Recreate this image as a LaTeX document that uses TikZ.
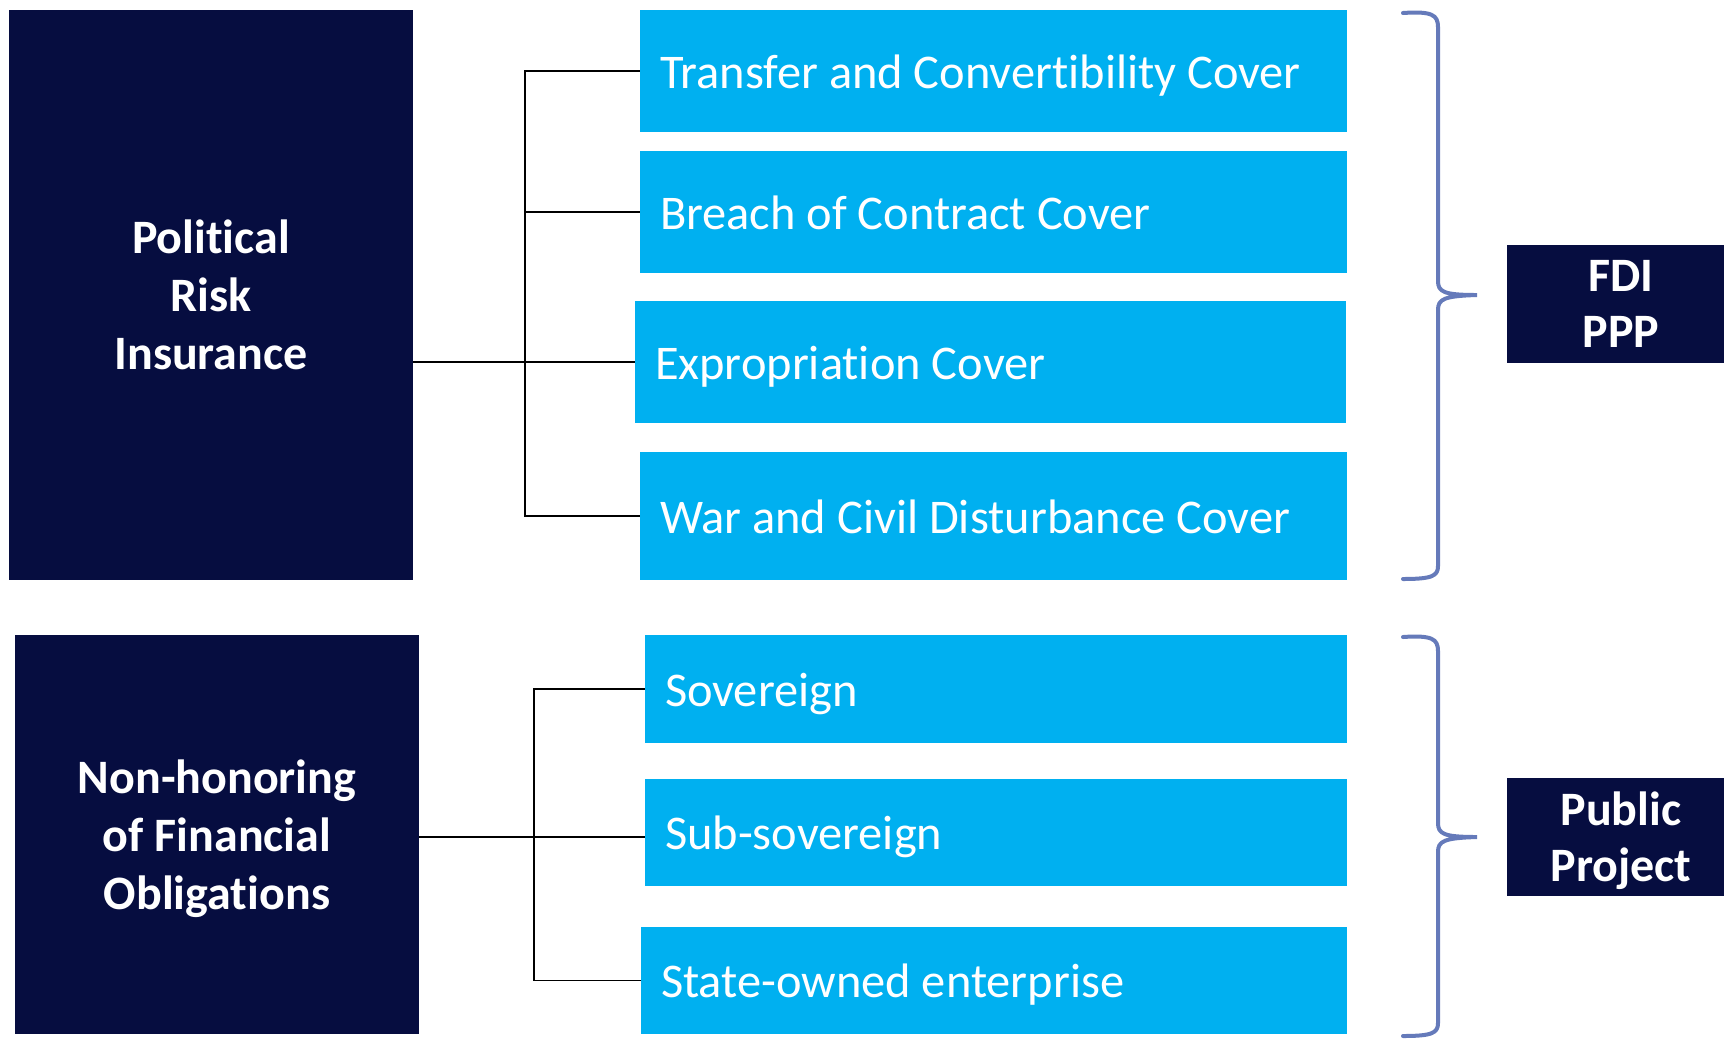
\documentclass[tikz,border=0pt]{standalone}
\usepackage{fontspec}
\setmainfont{Carlito}[Ligatures=NoCommon]
\definecolor{navy}{RGB}{6,13,64}
\definecolor{cover}{RGB}{0,176,240}
\definecolor{bracecol}{RGB}{101,122,186}
\newcommand{\nodesc}[1]{\raisebox{0pt}[\height][0pt]{#1}}

\begin{document}
\begin{tikzpicture}[x=0.5pt,y=-0.5pt,
    risk node/.style={fill=navy,text=white,font=\bfseries\fontsize{24}{29}\selectfont,align=center,inner sep=0pt,minimum width=202pt},
    cover node/.style={fill=cover,text=white,font=\fontsize{24.2}{29}\selectfont,align=flush left,inner xsep=10pt,inner ysep=0pt,text height=17pt,text depth=0pt},
    tag node/.style={fill=navy,text=white,font=\bfseries\fontsize{24}{28}\selectfont,align=center,inner sep=0pt,minimum width=114pt,minimum height=59pt},
    link/.style={draw=black,line width=0.75pt},
    curly/.style={draw=bracecol,line width=2pt,line cap=round}]
    \useasboundingbox (0,0) rectangle (1724,1041);

    % left boxes
    \node[risk node,minimum height=285pt] (prisk) at (211,295) {Political\\Risk\\Insurance};
    \node[risk node,minimum height=199.5pt] (nonhon) at (217,834.5) {Non-honoring\\of Financial\\\nodesc{Obligations}};

    % covers
    \node[cover node,text width=333.5pt,minimum height=61pt] (transfer) at (993.5,71) {Transfer and Convertibility Cover};
    \node[cover node,text width=333.5pt,minimum height=61pt] (breach) at (993.5,212) {Breach of Contract Cover};
    \node[cover node,text width=335.5pt,minimum height=61pt] (expro) at (990.5,362) {Expropriation Cover};
    \node[cover node,text width=333.5pt,minimum height=64pt] (war) at (993.5,516) {War and Civil Disturbance Cover};
    \node[cover node,text width=331pt,minimum height=54pt] (sov) at (996,689) {Sovereign};
    \node[cover node,text width=331pt,minimum height=53.5pt] (subsov) at (996,832.5) {Sub-sovereign};
    \node[cover node,text width=333pt,minimum height=53.5pt] (soe) at (994,980.5) {State-owned enterprise};

    % right tags
    \node[tag node] (fdi) at (1621,304) {FDI\\PPP};
    \node[tag node] (public) at (1621,837) {Public\\\nodesc{Project}};

    % connectors
    \coordinate (j1) at (525,362);
    \coordinate (j2) at (534,837);
    \draw[link] (transfer.west) -| (j1) |- (war.west);
    \draw[link] (breach.west) -- (j1 |- breach.west);
    \draw[link] (prisk.east |- expro.west) -- (expro.west);
    \draw[link] (sov.west) -| (j2) |- (soe.west);
    \draw[link] (nonhon.east |- j2) -- (subsov.west |- j2);

    % braces
    \draw[curly] (1403,13) .. controls (1432,11) and (1438,15) .. (1438,27) -- (1438,281)
        .. controls (1438,292) and (1444,295) .. (1477,295)
        .. controls (1444,296) and (1438,299) .. (1438,310) -- (1438,566)
        .. controls (1438,576) and (1432,579) .. (1403,579);
    \draw[curly] (1403,637) .. controls (1432,635) and (1438,639) .. (1438,651) -- (1438,823)
        .. controls (1438,834) and (1444,837) .. (1477,837)
        .. controls (1444,838) and (1438,841) .. (1438,852) -- (1438,1023)
        .. controls (1438,1033) and (1432,1036) .. (1403,1036);
\end{tikzpicture}
\end{document}
